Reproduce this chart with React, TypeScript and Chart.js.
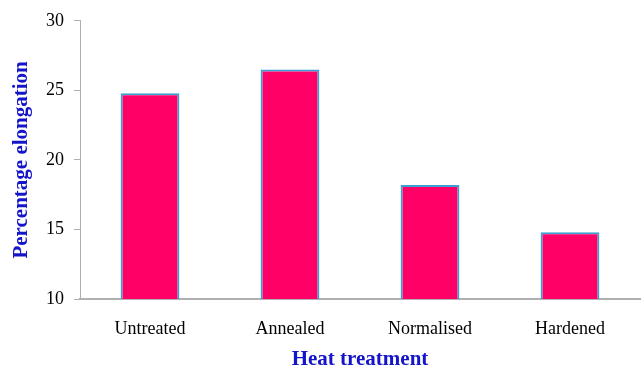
import React, { useEffect, useRef } from "react";
import { Chart, registerables } from "chart.js";

Chart.register(...registerables);

const categories = ["Untreated", "Annealed", "Normalised", "Hardened"];
const elongation = [24.8, 26.5, 18.2, 14.8];
const yTicks = [10, 15, 20, 25, 30];

export default function App() {
  const ref = useRef<HTMLCanvasElement | null>(null);

  useEffect(() => {
    document.body.style.margin = "0";
    const ctx = ref.current!.getContext("2d")!;
    const chart = new Chart(ctx, {
      type: "bar",
      data: {
        labels: categories,
        datasets: [
          {
            data: elongation,
            backgroundColor: "#FF0066",
            borderColor: "#3A9FD2",
            borderWidth: 2,
            borderSkipped: "bottom",
            categoryPercentage: 1,
            barPercentage: 0.42,
          },
        ],
      },
      options: {
        animation: false,
        responsive: false,
        maintainAspectRatio: false,
        layout: { padding: { top: 19, right: 2, left: 0, bottom: 0 } },
        plugins: { legend: { display: false }, tooltip: { enabled: false } },
        scales: {
          x: {
            grid: { display: false, drawTicks: false },
            border: { display: true, color: "#B0B0B0", width: 2 },
            ticks: {
              color: "#000",
              padding: 19,
              font: { family: "Liberation Serif", size: 18 },
            },
            title: {
              display: true,
              text: "Heat treatment",
              color: "#1414C8",
              font: { family: "Liberation Serif", size: 21, weight: "bold" },
              padding: { top: 0, bottom: 0 },
            },
            afterFit: (s: any) => {
              s.height = 73;
            },
          },
          y: {
            min: 10,
            max: 30,
            afterBuildTicks: (s: any) => {
              s.ticks = yTicks.map((v) => ({ value: v }));
            },
            grid: {
              display: true,
              drawOnChartArea: false,
              drawTicks: true,
              tickLength: 6,
              color: "#B0B0B0",
            },
            border: { display: true, color: "#B0B0B0", width: 1 },
            ticks: {
              color: "#000",
              padding: 10,
              font: { family: "Liberation Serif", size: 18 },
            },
            title: {
              display: true,
              text: "Percentage elongation",
              color: "#1414C8",
              font: { family: "Liberation Serif", size: 21, weight: "bold" },
              padding: { top: 9, bottom: 0 },
            },
            afterFit: (s: any) => {
              s.width = 80;
            },
          },
        },
      },
    });
    return () => chart.destroy();
  }, []);

  return (
    <div style={{ position: "absolute", left: 0, top: 0, width: 642, height: 372, background: "#fff" }}>
      <canvas ref={ref} width={642} height={372} style={{ display: "block" }} />
    </div>
  );
}
